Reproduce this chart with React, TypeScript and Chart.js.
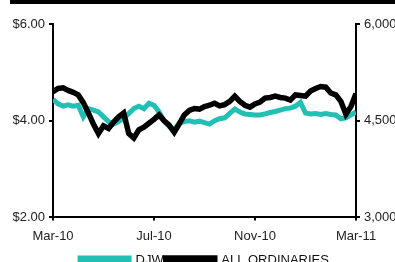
import React, { useEffect, useRef } from "react";
import { Chart, registerables } from "chart.js";

Chart.register(...registerables);

// x positions in months from Mar-10 (0) to Mar-11 (12)
const monthLabels = ["Mar-10", "Jul-10", "Nov-10", "Mar-11"];

const djw = [
  4.44, 4.35, 4.30, 4.33, 4.30, 4.32, 4.08, 4.25, 4.22, 4.18,
  4.08, 3.98, 3.93, 3.98, 4.05, 4.15, 4.25, 4.30, 4.25, 4.36,
  4.32, 4.18, 4.00, 3.88, 3.82, 3.95, 3.98, 4.00, 3.97, 3.99,
  3.96, 3.93, 4.00, 4.04, 4.06, 4.15, 4.24, 4.18, 4.14, 4.13,
  4.12, 4.12, 4.14, 4.17, 4.19, 4.22, 4.25, 4.26, 4.30, 4.38,
  4.16, 4.14, 4.15, 4.13, 4.15, 4.13, 4.12, 4.04, 4.06, 4.12,
  4.18,
];

const allOrds = [
  4950, 5000, 5010, 4970, 4940, 4900, 4780, 4620, 4450, 4300,
  4420, 4380, 4480, 4560, 4620, 4300, 4230, 4360, 4400, 4460,
  4520, 4590, 4500, 4430, 4320, 4450, 4590, 4660, 4690, 4680,
  4720, 4740, 4770, 4730, 4750, 4800, 4880, 4800, 4740, 4710,
  4760, 4790, 4850, 4860, 4880, 4860, 4850, 4820, 4900, 4890,
  4880, 4960, 5000, 5030, 5020, 4930, 4900, 4800, 4600, 4720,
  4920,
];

const months = djw.map((_, i) => i * 0.2);

const TEAL = "#22bfb5";
const FONT = "'Liberation Sans', Arial, sans-serif";

export default function App() {
  const ref = useRef<HTMLCanvasElement | null>(null);

  useEffect(() => {
    document.body.style.margin = "0";
    const canvas = ref.current!;
    const chart = new Chart(canvas, {
      type: "line",
      data: {
        datasets: [
          {
            label: "DJW",
            data: months.map((m, i) => ({ x: m, y: djw[i] })),
            borderColor: TEAL,
            backgroundColor: TEAL,
            borderWidth: 5,
            pointRadius: 0,
            yAxisID: "y",
            order: 2,
          },
          {
            label: "ALL ORDINARIES",
            data: months.map((m, i) => ({ x: m, y: allOrds[i] })),
            borderColor: "#000",
            backgroundColor: "#000",
            borderWidth: 5.5,
            pointRadius: 0,
            yAxisID: "y1",
            order: 1,
          },
        ],
      },
      options: {
        responsive: false,
        animation: false,
        layout: { padding: { top: 24, left: 0, right: 0, bottom: 0 } },
        plugins: {
          tooltip: { enabled: false },
          legend: {
            position: "bottom",
            fullSize: false,
            labels: {
              boxWidth: 49,
              boxHeight: 5,
              color: "#111",
              font: { family: FONT, size: 13 },
              padding: 2,
              sort: (a: any, b: any) => a.datasetIndex - b.datasetIndex,
            },
          },
        },
        scales: {
          x: {
            type: "linear",
            min: 0,
            max: 12,
            ticks: {
              stepSize: 4,
              color: "#222",
              font: { family: FONT, size: 13 },
              padding: 8,
              maxRotation: 0,
              callback: (v: any) => monthLabels[Math.round(Number(v) / 4)] ?? "",
            },
            grid: { drawOnChartArea: false, color: "#000", tickLength: 3, lineWidth: 2 },
            border: { color: "#000", width: 2 },
          },
          y: {
            position: "left",
            min: 2,
            max: 6,
            ticks: {
              stepSize: 2,
              color: "#222",
              font: { family: FONT, size: 13 },
              padding: 4,
              callback: (v: any) => "$" + Number(v).toFixed(2),
            },
            grid: { drawOnChartArea: false, color: "#000", tickLength: 4, lineWidth: 2 },
            border: { color: "#000", width: 2 },
            afterFit: (s: any) => {
              s.width = 53;
            },
          },
          y1: {
            position: "right",
            min: 3000,
            max: 6000,
            ticks: {
              stepSize: 1500,
              color: "#222",
              font: { family: FONT, size: 13 },
              padding: 4,
              callback: (v: any) => Number(v).toLocaleString("en-US"),
            },
            grid: { drawOnChartArea: false, color: "#000", tickLength: 4, lineWidth: 2 },
            border: { color: "#000", width: 2 },
            afterFit: (s: any) => {
              s.width = 39;
            },
          },
        },
      },
    });
    return () => chart.destroy();
  }, []);

  return (
    <div style={{ position: "relative", width: 395, height: 262, overflow: "hidden", background: "#fff" }}>
      <div style={{ position: "absolute", left: 10, top: 0, width: 385, height: 4, background: "#000" }} />
      <canvas ref={ref} width={395} height={277} style={{ display: "block" }} />
    </div>
  );
}
